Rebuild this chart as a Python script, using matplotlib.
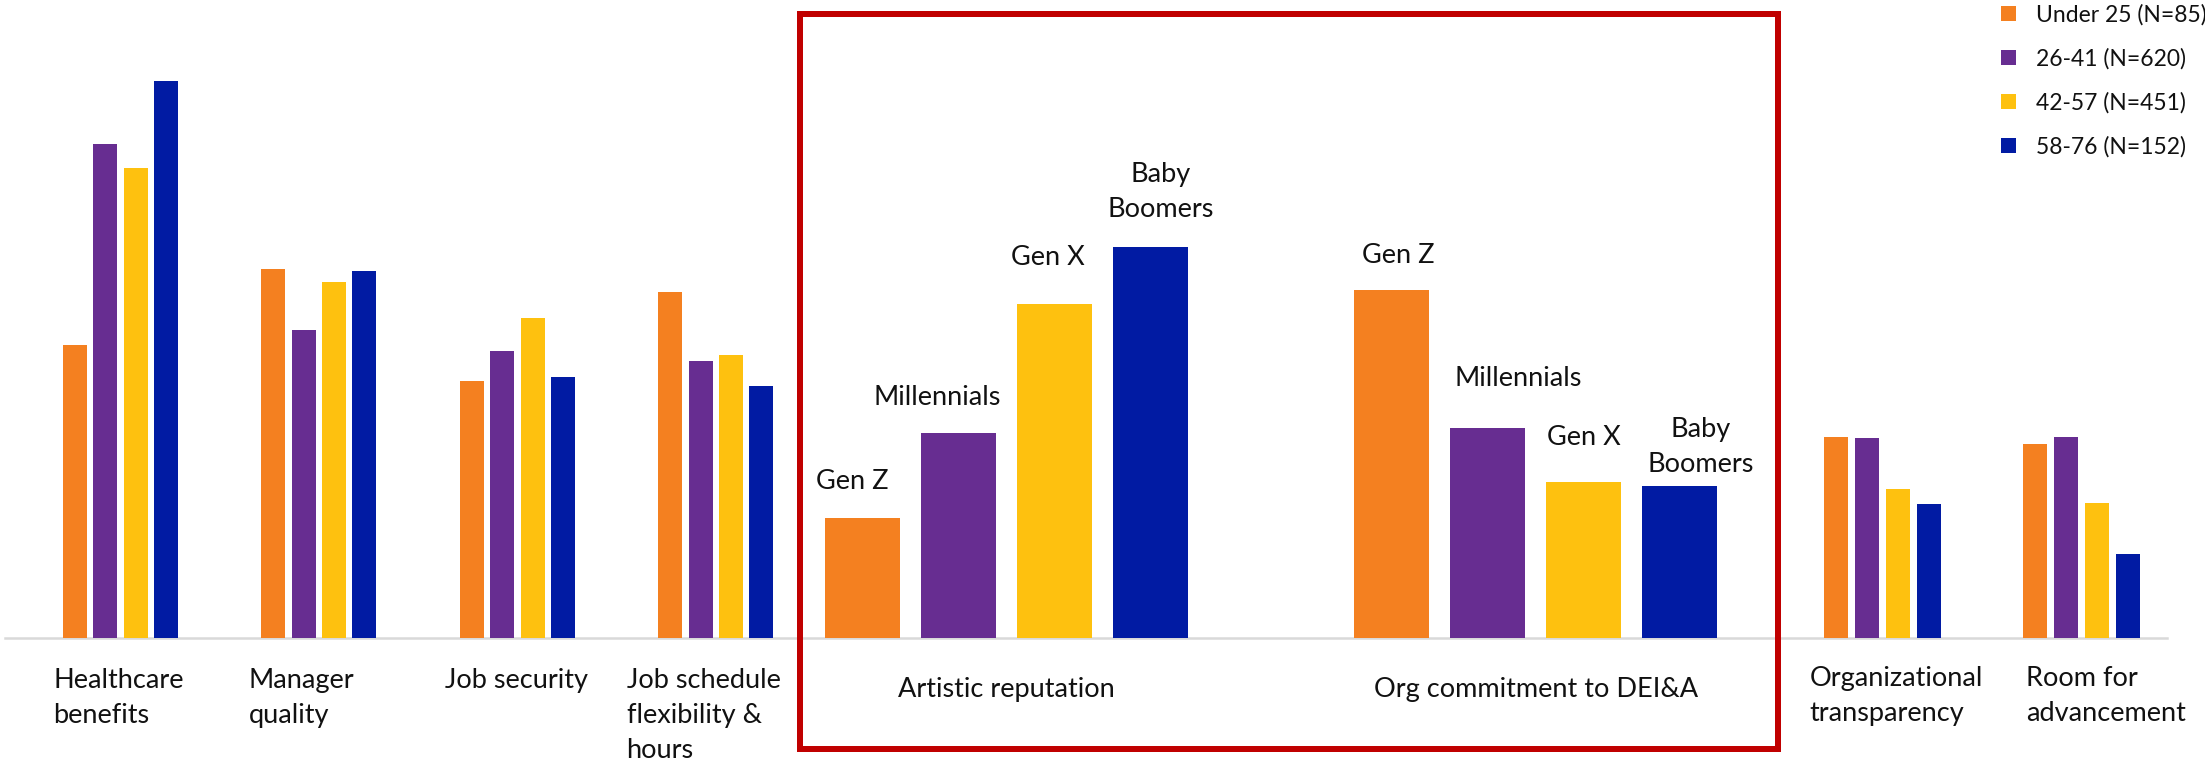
import matplotlib
matplotlib.use("Agg")
import matplotlib.pyplot as plt
from matplotlib.patches import Rectangle, Patch
from matplotlib.lines import Line2D

# ---------------- data ----------------
series_names = ["Under 25 (N=85)", "26-41 (N=620)", "42-57 (N=451)", "58-76 (N=152)"]
generation_names = ["Gen Z", "Millennials", "Gen X", "Baby\nBoomers"]

left_categories = ["Healthcare\nbenefits", "Manager\nquality", "Job security",
                   "Job schedule\nflexibility &\nhours"]
mid_categories = ["Artistic reputation", "Org commitment to DEI&A"]
right_categories = ["Organizational\ntransparency", "Room for\nadvancement"]

# share of respondents (%) per age group, one list per category block
left_values = {
    "Under 25 (N=85)": [31.6, 39.8, 27.7, 37.3],
    "26-41 (N=620)":   [53.2, 33.2, 30.9, 29.8],
    "42-57 (N=451)":   [50.6, 38.4, 34.5, 30.5],
    "58-76 (N=152)":   [60.0, 39.6, 28.1, 27.2],
}
mid_values = {
    "Under 25 (N=85)": [12.9, 37.5],
    "26-41 (N=620)":   [22.1, 22.6],
    "42-57 (N=451)":   [36.0, 16.8],
    "58-76 (N=152)":   [42.1, 16.4],
}
right_values = {
    "Under 25 (N=85)": [21.7, 20.9],
    "26-41 (N=620)":   [21.5, 21.7],
    "42-57 (N=451)":   [16.1, 14.6],
    "58-76 (N=152)":   [14.4, 9.0],
}

colors = ["#F48020", "#672D91", "#FEC10F", "#011BA3"]

# ---------------- layout ----------------
W, H, DPI = 2205, 760, 100
BASE_Y = 638          # baseline, pixels from top
PX_PER_UNIT = 9.28    # vertical pixels per percentage point
FS_LABEL = 19.5
FS_LEGEND = 16.5
TEXT_COLOR = "#111111"

plt.rcParams["font.family"] = ["Lato", "DejaVu Sans"]

fig = plt.figure(figsize=(W / DPI, H / DPI), dpi=DPI)
fig.patch.set_facecolor("white")

ymin = -(H - BASE_Y) / PX_PER_UNIT
ymax = ymin + H / PX_PER_UNIT


def ypx(py):
    """Convert a pixel row (from the top) to data units."""
    return (BASE_Y - py) / PX_PER_UNIT


def make_axes(x0, x1, first_center, spacing):
    ax = fig.add_axes([x0 / W, 0, (x1 - x0) / W, 1])
    xmin = -(first_center - x0) / spacing
    ax.set_xlim(xmin, xmin + (x1 - x0) / spacing)
    ax.set_ylim(ymin, ymax)
    ax.axis("off")
    ax.patch.set_alpha(0)
    return ax


def draw_group_bars(ax, values, n_groups, step, width):
    containers = []
    for k, name in enumerate(series_names):
        xs = [g + (k - 1.5) * step for g in range(n_groups)]
        c = ax.bar(xs, values[name], width=width, color=colors[k],
                   edgecolor="none", label=name, zorder=2)
        containers.append(c)
    return containers


# left block
ax_l = make_axes(0, 790, 120.4, 198.5)
bars_l = draw_group_bars(ax_l, left_values, len(left_categories), 0.153, 0.121)
left_label_dx = [-0.337, -0.353, -0.364, -0.450]
for i, lab in enumerate(left_categories):
    ax_l.text(i + left_label_dx[i], ypx(668), lab, ha="left", va="top",
              fontsize=FS_LABEL, color=TEXT_COLOR, linespacing=1.5)

# middle (highlighted) block
ax_m = make_axes(800, 1778, 1006.4, 529.4)
bars_m = draw_group_bars(ax_m, mid_values, len(mid_categories), 0.1815, 0.1417)
for i, lab in enumerate(mid_categories):
    ax_m.text(i, ypx(696.7), lab, ha="center", va="baseline",
              fontsize=FS_LABEL, color=TEXT_COLOR)

# generation names above the highlighted bars (pixel offsets of the label
# centre / last baseline relative to the bar top)
gen_offsets = [
    [(-10.5, 30.0), (-21.4, 29.0), (-6.8, 39.7), (10.4, 31.5)],
    [(6.4, 28.0), (30.3, 43.0), (0.3, 38.3), (20.4, 14.6)],
]
for k, cont in enumerate(bars_m):
    for i, rect in enumerate(cont):
        dx, dy = gen_offsets[i][k]
        ax_m.annotate(generation_names[k],
                      xy=(rect.get_x() + rect.get_width() / 2, rect.get_height()),
                      xytext=(dx, dy - 6), textcoords="offset pixels",
                      ha="center", va="bottom", fontsize=FS_LABEL,
                      color=TEXT_COLOR, linespacing=1.5)

# right block
ax_r = make_axes(1790, W, 1882.5, 199.2)
bars_r = draw_group_bars(ax_r, right_values, len(right_categories), 0.155, 0.12)
right_label_dx = [-0.366, -0.280]
for i, lab in enumerate(right_categories):
    ax_r.text(i + right_label_dx[i], ypx(666), lab, ha="left", va="top",
              fontsize=FS_LABEL, color=TEXT_COLOR, linespacing=1.5)

# shared baseline rule
fig.add_artist(Line2D([5 / W, 2167 / W], [(H - BASE_Y) / H] * 2,
                      transform=fig.transFigure, color="#D9D9D9",
                      lw=2.5 * 72 / DPI, zorder=-1))

# highlight frame around the middle block
x0, x1, y0, y1 = 800.3, 1778.3, 14, 749
fig.add_artist(Rectangle((x0 / W, (H - y1) / H), (x1 - x0) / W, (y1 - y0) / H,
                         transform=fig.transFigure, fill=False,
                         edgecolor="#C00000", lw=6 * 72 / DPI,
                         joinstyle="miter", zorder=5))

# legend
handles = [Patch(facecolor=c, edgecolor="none") for c in colors]
fig.legend(handles, series_names, loc="upper left",
           bbox_to_anchor=(2001 / W, 1 - 4 / H), frameon=False,
           fontsize=FS_LEGEND, handlelength=0.66, handleheight=0.66,
           handletextpad=0.85, labelspacing=0.98, borderpad=0,
           borderaxespad=0, labelcolor=TEXT_COLOR)

fig.savefig("out.png", dpi=DPI, facecolor="white")
